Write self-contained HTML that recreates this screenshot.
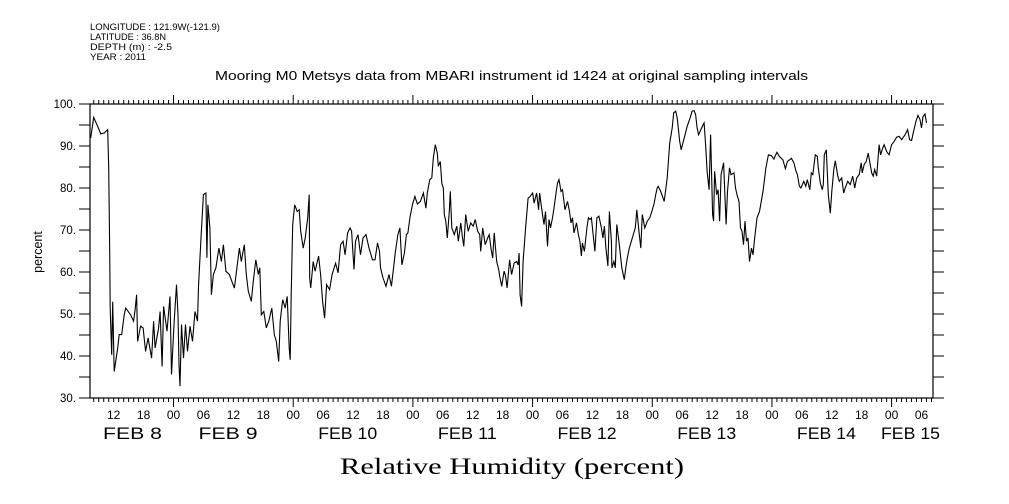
<!DOCTYPE html>
<html><head><meta charset="utf-8"><style>
body{margin:0;background:#fff;width:1009px;height:504px;overflow:hidden}
svg{display:block;font-family:"Liberation Sans",sans-serif}
</style></head><body>
<svg id="chart" width="1009" height="504" viewBox="0 0 1009 504">
<g font-size="9.5" fill="#000">
<text x="90" y="30" textLength="130" lengthAdjust="spacingAndGlyphs">LONGITUDE : 121.9W(-121.9)</text>
<text x="90" y="40" textLength="76" lengthAdjust="spacingAndGlyphs">LATITUDE : 36.8N</text>
<text x="90" y="50" textLength="82" lengthAdjust="spacingAndGlyphs">DEPTH (m) : -2.5</text>
<text x="90" y="60" textLength="56" lengthAdjust="spacingAndGlyphs">YEAR : 2011</text>
</g>
<text x="215" y="80" font-size="13" textLength="593" lengthAdjust="spacingAndGlyphs">Mooring M0 Metsys data from MBARI instrument id 1424 at original sampling intervals</text>
<text x="340" y="474" font-size="23" textLength="344" lengthAdjust="spacingAndGlyphs" font-family="Liberation Serif, serif">Relative Humidity (percent)</text>
<text transform="translate(42,252) rotate(-90)" font-size="12.5" text-anchor="middle">percent</text>
<rect x="90" y="104" width="843" height="294" fill="none" stroke="#000" stroke-width="1.2"/>
<g id="axes"></g>
<path id="line" fill="none" stroke="#000" stroke-width="1.1"/>
</svg>
<script>
// hours since Feb 8 00:00
const hours=[7.4,8.0,8.8,9.4,10.1,10.8,11.0,11.2,11.3,11.6,11.8,12.1,12.8,13.1,13.6,14.1,14.4,15.4,16.0,16.3,16.6,16.8,17.4,17.9,18.4,18.9,19.6,20.0,20.3,21.0,21.3,21.7,22.0,22.7,23.3,23.6,24.1,24.6,24.9,25.1,25.3,25.6,26.0,26.4,26.8,27.3,27.8,28.3,28.8,29.0,29.5,30.0,30.5,30.7,30.9,31.3,31.6,32.0,32.5,33.1,33.6,34.0,34.5,35.2,35.8,36.2,36.7,37.2,37.6,38.2,38.6,39.0,39.6,40.0,40.5,41.0,41.3,41.6,42.1,42.6,43.1,43.7,44.2,44.6,45.1,45.4,45.9,46.4,46.8,47.2,47.4,47.6,47.9,48.3,48.8,49.2,49.5,50.0,50.4,50.9,51.2,51.3,51.5,52.0,52.4,53.1,53.5,53.9,54.3,54.7,55.3,55.8,56.5,57.0,57.5,58.0,58.4,58.9,59.4,59.7,60.2,60.5,61.0,61.5,62.0,62.6,63.2,63.9,64.4,64.9,65.3,65.5,66.0,66.6,67.2,67.7,68.2,68.5,69.0,69.4,69.8,70.3,70.7,71.0,71.4,71.9,72.4,72.9,73.5,74.1,74.6,74.9,75.4,75.8,76.1,76.5,76.9,77.1,77.5,77.8,78.1,78.3,78.6,78.9,79.3,79.5,79.8,80.3,80.8,81.1,81.6,81.9,82.2,82.6,83.1,83.6,84.1,84.5,85.0,85.4,85.6,86.0,86.5,87.0,87.3,87.7,88.0,88.3,88.8,89.2,89.4,89.8,90.3,90.6,90.9,91.4,91.8,92.3,92.8,93.1,93.3,93.5,93.8,94.1,94.6,95.1,95.5,96.0,96.3,96.8,97.2,97.4,98.0,98.3,98.6,99.0,99.3,99.6,100.0,100.3,100.8,101.0,101.3,101.7,102.0,102.5,103.0,103.4,103.7,104.0,104.3,104.8,105.2,105.5,105.8,106.0,106.4,106.9,107.2,107.5,107.8,108.5,108.9,109.3,109.8,110.1,110.4,110.7,111.1,111.4,111.8,111.9,112.3,112.6,112.9,113.4,113.9,114.4,114.7,115.0,115.4,115.9,116.2,116.6,116.9,117.4,117.7,118.0,118.5,119.0,119.5,119.9,120.4,120.7,121.0,121.2,121.7,122.4,123.0,123.5,124.0,124.3,124.7,125.0,125.5,125.8,127.0,127.6,128.0,128.4,128.7,129.0,129.3,129.9,130.4,130.7,131.0,131.4,131.7,132.1,132.3,132.5,132.9,133.2,133.5,133.8,134.3,134.8,135.1,135.5,135.8,136.4,136.7,137.0,137.4,137.7,138.0,138.3,138.6,138.9,139.2,139.5,139.9,140.2,140.5,141.0,141.5,142.2,142.8,143.3,143.9,144.4,145.0,145.5,146.2,146.7,147.1,147.5,147.9,148.4,148.8,149.1,149.5,149.8,150.4,150.8,151.1,151.6,151.9,152.2,152.7,153.1,153.3,153.7,154.1,154.3,154.5,154.9,155.3,155.7,156.0,156.4,156.7,157.2,157.5,158.0,158.4,158.7,159.2,159.7,160.2,160.6,161.0,161.5,161.9,162.1,162.5,162.9,163.3,163.7,164.0,164.3,164.6,165.0,165.5,165.8,166.1,166.5,167.0,167.5,168.0,168.5,169.0,169.5,170.0,170.7,171.2,171.6,172.0,172.4,172.9,173.3,173.7,174.0,174.3,174.7,175.0];
const humidity=[91.9,96.8,94.7,92.9,93.1,93.9,84.8,64.9,51.4,40.3,52.9,36.3,41.9,45.1,45.1,49.8,51.4,49.8,48.3,51.0,54.6,43.5,47.1,46.7,41.1,44.3,39.5,48.3,41.9,46.7,50.6,37.5,51.8,45.9,54.2,35.6,47.5,57.0,49.8,37.9,32.8,47.5,39.5,47.5,41.1,47.1,43.5,50.6,48.3,56.6,68.1,78.4,78.8,63.4,76.0,70.5,54.6,59.4,61.0,65.7,62.5,66.5,60.2,59.4,57.4,56.2,61.0,65.7,62.5,66.5,59.4,55.4,53.0,57.8,62.9,59.4,61.0,49.8,50.6,46.7,48.3,51.4,45.1,43.5,38.7,48.3,53.4,51.4,54.2,41.9,39.1,54.6,71.3,76.0,74.4,74.8,69.7,65.7,68.1,72.9,78.4,58.6,56.2,62.5,60.2,63.8,59.4,53.0,49.0,57.0,55.8,59.4,62.1,59.8,66.5,67.3,64.1,69.3,70.5,69.7,60.6,67.3,68.9,64.1,68.1,68.9,65.7,62.9,62.9,66.9,64.9,61.0,58.6,56.6,59.4,56.6,61.7,64.9,68.9,70.5,61.7,64.5,68.9,69.3,72.9,76.0,78.0,76.2,76.8,78.8,75.2,78.8,82.0,82.4,87.1,90.3,88.3,85.2,86.3,81.2,80.0,73.7,72.1,68.1,74.4,79.2,70.5,68.9,70.9,67.3,71.7,68.5,66.1,73.7,69.7,71.7,70.9,72.5,69.7,68.9,64.9,70.5,66.5,68.1,68.9,65.3,63.3,69.3,62.5,60.6,59.0,56.6,60.2,59.0,56.2,62.9,59.4,62.1,62.5,61.7,64.5,54.6,51.8,62.5,70.5,77.6,78.0,78.8,76.4,78.8,74.8,78.8,73.7,71.3,74.4,66.1,72.5,70.5,72.9,75.2,79.6,81.2,82.0,79.2,79.6,74.8,76.8,74.4,71.7,72.9,69.3,71.7,68.9,67.3,63.8,66.9,64.9,70.5,72.9,72.5,72.9,64.9,72.9,73.3,70.5,68.1,70.9,65.7,61.4,74.4,67.3,61.0,62.5,61.0,71.3,66.5,61.0,58.2,61.0,63.3,65.7,67.7,68.9,70.5,74.8,68.9,65.7,73.7,70.5,72.1,72.9,74.4,76.4,78.4,80.0,80.4,79.2,76.8,82.4,90.7,94.3,97.9,98.3,96.7,91.1,89.1,94.7,96.7,98.3,98.4,97.5,94.3,92.7,94.3,95.5,90.3,84.0,79.6,92.7,73.7,72.1,84.0,78.4,79.6,72.1,83.2,86.0,71.3,79.2,84.8,83.2,83.6,80.0,78.4,76.8,70.5,69.7,66.5,72.1,67.3,68.1,62.5,65.7,64.1,67.7,72.9,74.4,79.2,84.8,87.9,87.7,86.9,88.5,87.5,86.7,84.6,86.3,86.7,87.1,86.0,84.1,83.2,80.4,80.0,81.6,80.4,82.0,79.6,83.6,83.2,87.9,87.5,84.8,81.2,79.6,80.8,87.9,89.1,78.4,74.0,79.2,84.4,86.5,82.8,81.6,82.4,78.8,80.0,81.6,80.8,82.8,80.0,82.4,83.2,86.0,83.6,85.6,86.3,88.3,85.6,83.6,82.8,84.4,82.8,90.3,87.9,89.1,90.3,88.7,87.9,90.3,91.1,92.1,92.3,91.5,92.7,93.9,91.5,91.3,93.5,95.9,97.3,96.3,94.3,97.0,97.6,95.5,93.5,95.5,93.1];
const yTicks=[30,40,50,60,70,80,90,100];
const hourLabels=["12","18","00","06","12","18","00","06","12","18","00","06","12","18","00","06","12","18","00","06","12","18","00","06","12","18","00","06"];
const dayLabels=["FEB  8","FEB  9","FEB 10","FEB 11","FEB 12","FEB 13","FEB 14","FEB 15"];

const X0=90,X1=933,Y0=104,Y1=398,HMIN=7.25,HMAX=176.3,VMIN=30,VMAX=100;
function xs(h){return X0+(h-HMIN)/(HMAX-HMIN)*(X1-X0);}
function ys(v){return Y1-(v-VMIN)/(VMAX-VMIN)*(Y1-Y0);}
const NS='http://www.w3.org/2000/svg';
const axes=document.getElementById('axes');
function mk(tag,attrs,parent){const e=document.createElementNS(NS,tag);for(const k in attrs)e.setAttribute(k,attrs[k]);(parent||axes).appendChild(e);return e;}
let d='';
for(let i=0;i<hours.length;i++){d+=(i?'L':'M')+xs(hours[i]).toFixed(1)+' '+ys(humidity[i]).toFixed(1);}
document.getElementById('line').setAttribute('d',d);
for(let h=Math.ceil(HMIN);h<=HMAX;h++){
  const x=xs(h);const len=(h%24===0)?9:4;
  const t=mk('line',{x1:x,x2:x,y1:Y0,y2:Y0-len,stroke:'#000','stroke-width':1});
  
  
  const b=mk('line',{x1:x,x2:x,y1:Y1,y2:Y1+len,stroke:'#000','stroke-width':1});
  
  
}
hourLabels.forEach((lab,i)=>{
  const h=12+6*i;
  const t=mk('text',{x:xs(h),y:419,'font-size':12,'text-anchor':'middle'});
  t.textContent=lab;
  
  
});
dayLabels.forEach((lab,i)=>{
  let x=xs(24*i)+25; if(i===0)x=103; if(i===7)x=881;
  const t=mk('text',{x:x,y:439,'font-size':17,textLength:59,lengthAdjust:'spacingAndGlyphs'});
  t.setAttribute('xml:space','preserve');
  t.textContent=lab;
  
  
});
for(let v=VMIN;v<=VMAX;v+=5){
  const y=ys(v);
  const l=mk('line',{x1:X0-11,x2:X0,y1:y,y2:y,stroke:'#000','stroke-width':1});
  
  
  const r=mk('line',{x1:X1,x2:X1+11,y1:y,y2:y,stroke:'#000','stroke-width':1});
  
  
}
yTicks.forEach(v=>{
  const t=mk('text',{x:76,y:ys(v)+4,'font-size':11.5,'text-anchor':'end'});
  t.textContent=v+'.';
  
  
});
</script>
</body></html>
